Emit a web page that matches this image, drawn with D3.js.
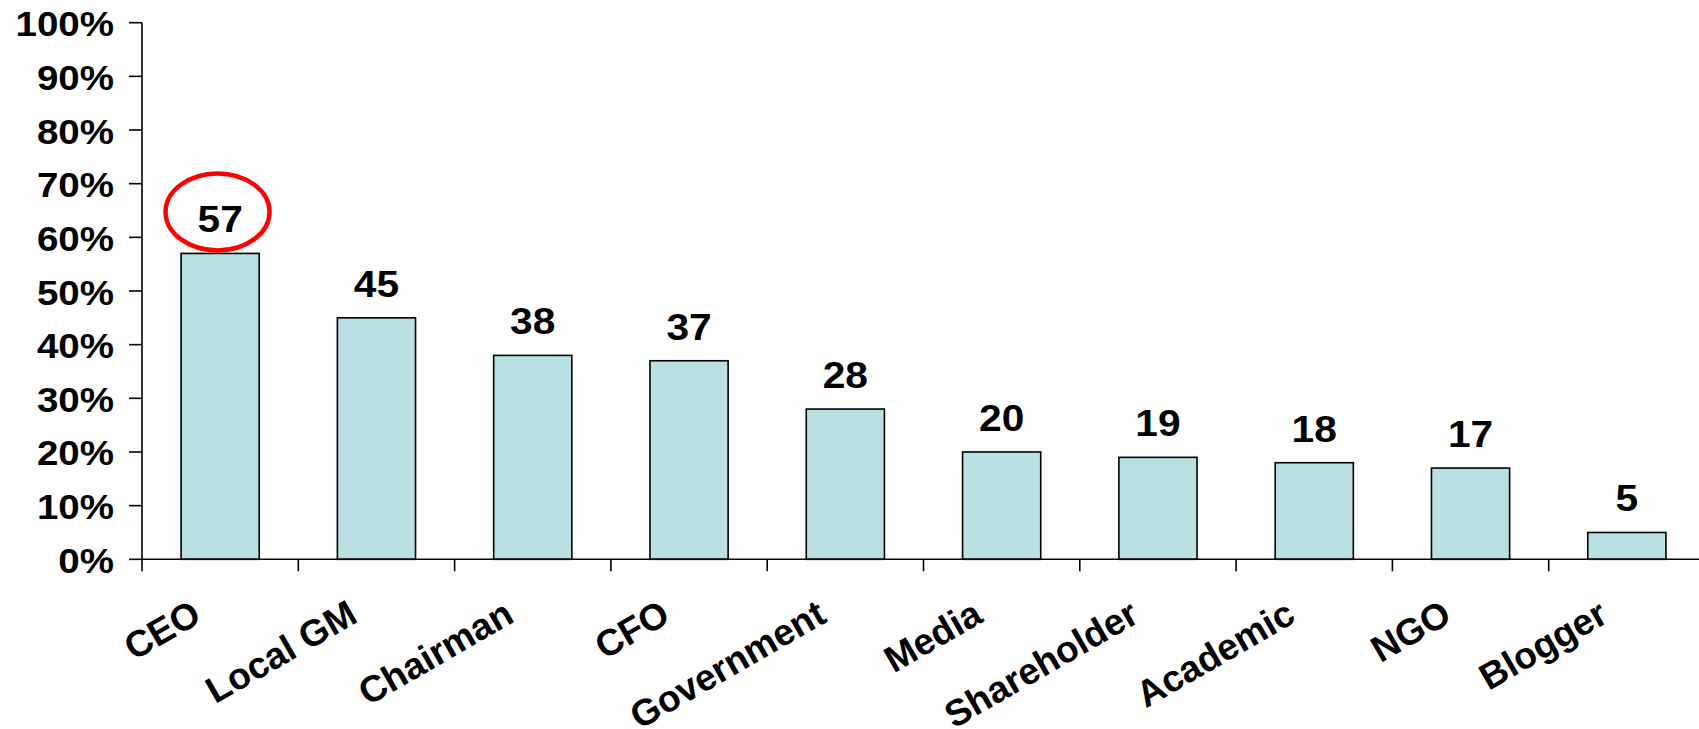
<!DOCTYPE html>
<html>
<head>
<meta charset="utf-8">
<script src="https://cdn.jsdelivr.net/npm/d3@7/dist/d3.min.js"></script>
<style>
  html, body { margin: 0; padding: 0; background: #fff; }
  svg { display: block; }
  text { font-family: "Liberation Sans", Arial, sans-serif; font-weight: bold; fill: #000; }
</style>
</head>
<body>
<svg id="chart" width="1699" height="729"></svg>
<script>
// Share of respondents naming each role
const categories = ["CEO", "Local GM", "Chairman", "CFO", "Government", "Media", "Shareholder", "Academic", "NGO", "Blogger"];
const values = [57, 45, 38, 37, 28, 20, 19, 18, 17, 5];
const yTicks = [0, 10, 20, 30, 40, 50, 60, 70, 80, 90, 100];
const highlighted = "CEO";

const W = 1699, H = 729;
const plotLeft = 142, plotRight = 1705, plotTop = 22.7, plotBottom = 559.3;
const sx = 1.1; // horizontal stretch of the number lettering

const svg = d3.select("#chart");

const x = d3.scaleBand().domain(categories).range([plotLeft, plotRight]).paddingInner(0).paddingOuter(0);
const y = d3.scaleLinear().domain([0, 100]).range([plotBottom, plotTop]);
const barW = x.bandwidth() * 0.5;

// bars
svg.append("g").selectAll("rect")
  .data(categories)
  .join("rect")
  .attr("x", (d) => x(d) + (x.bandwidth() - barW) / 2)
  .attr("y", (d, i) => y(values[i]))
  .attr("width", barW)
  .attr("height", (d, i) => y(0) - y(values[i]))
  .attr("fill", "#b9e0e3")
  .attr("stroke", "#000")
  .attr("stroke-width", 1.6);

// y axis
const yAxis = svg.append("g");
yAxis.append("line")
  .attr("x1", plotLeft).attr("x2", plotLeft)
  .attr("y1", y(0)).attr("y2", y(100))
  .attr("stroke", "#000").attr("stroke-width", 1.6);
yAxis.selectAll("line.tick")
  .data(yTicks)
  .join("line")
  .attr("class", "tick")
  .attr("x1", plotLeft - 13).attr("x2", plotLeft)
  .attr("y1", (d) => y(d)).attr("y2", (d) => y(d))
  .attr("stroke", "#000").attr("stroke-width", 1.6);
yAxis.selectAll("text")
  .data(yTicks)
  .join("text")
  .attr("transform", (d) => `translate(114,${y(d) + 13.5}) scale(${sx},1)`)
  .attr("text-anchor", "end")
  .attr("font-size", 35)
  .text((d) => d + "%");

// x axis
const xAxis = svg.append("g");
xAxis.append("line")
  .attr("x1", plotLeft).attr("x2", W)
  .attr("y1", y(0)).attr("y2", y(0))
  .attr("stroke", "#000").attr("stroke-width", 1.6);
const bounds = categories.map((c) => x(c)).concat([plotRight]);
xAxis.selectAll("line.tick")
  .data(bounds)
  .join("line")
  .attr("class", "tick")
  .attr("x1", (d) => d).attr("x2", (d) => d)
  .attr("y1", y(0)).attr("y2", y(0) + 12)
  .attr("stroke", "#000").attr("stroke-width", 1.6);
xAxis.selectAll("text")
  .data(categories)
  .join("text")
  .attr("transform", (d) => `translate(${x(d) + x.bandwidth() / 2 - 17},621) rotate(-30)`)
  .attr("text-anchor", "end")
  .attr("font-size", 37)
  .text((d) => d);

// value labels
svg.append("g").selectAll("text")
  .data(categories)
  .join("text")
  .attr("transform", (d, i) => `translate(${x(d) + x.bandwidth() / 2},${y(values[i]) - 21}) scale(${sx},1)`)
  .attr("text-anchor", "middle")
  .attr("font-size", 37)
  .text((d, i) => values[i]);

// red ring around the top value
const hi = categories.indexOf(highlighted);
svg.append("ellipse")
  .attr("cx", x(highlighted) + x.bandwidth() / 2 - 2.6)
  .attr("cy", y(values[hi]) - 41.5)
  .attr("rx", 52)
  .attr("ry", 38.5)
  .attr("fill", "none")
  .attr("stroke", "#ff0000")
  .attr("stroke-width", 4.5);
</script>
</body>
</html>
